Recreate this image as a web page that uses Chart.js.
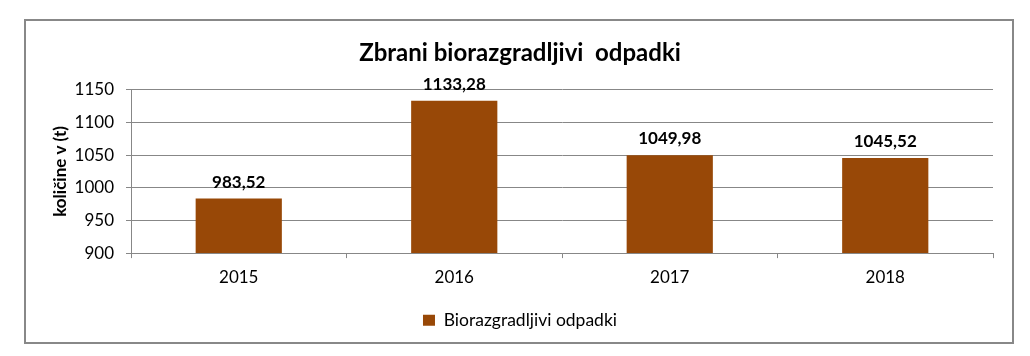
<!DOCTYPE html>
<html>
<head>
<meta charset="utf-8">
<script src="https://cdn.jsdelivr.net/npm/chart.js@4"></script>
<style>
  html, body { margin: 0; padding: 0; background: #fff; }
  #wrap { position: relative; width: 1030px; height: 356px; }
  #frame {
    position: absolute; left: 24px; top: 19px; width: 986px; height: 321px;
    border: 2px solid #888; pointer-events: none;
  }
</style>
</head>
<body>
<div id="wrap">
  <canvas id="myChart" width="1030" height="356"></canvas>
  <div id="frame"></div>
</div>
<script>
const years = ["2015", "2016", "2017", "2018"];
const amounts = [983.52, 1133.28, 1049.98, 1045.52];
const seriesName = "Biorazgradljivi odpadki";
const chartTitle = "Zbrani biorazgradljivi  odpadki";
const yTitle = "količine v (t)";

const FONT = "Lato, 'Open Sans', sans-serif";
const barColor = "#984807";
const gridColor = "#878787";

// value labels above bars
const barLabels = {
  id: "barLabels",
  afterDatasetsDraw(chart) {
    const ctx = chart.ctx;
    ctx.save();
    ctx.font = "bold 17px " + FONT;
    ctx.fillStyle = "#000";
    ctx.textAlign = "center";
    ctx.textBaseline = "bottom";
    chart.getDatasetMeta(0).data.forEach((bar, i) => {
      const txt = amounts[i].toFixed(2).replace(".", ",");
      ctx.fillText(txt, bar.x, bar.y - 8);
    });
    ctx.restore();
  }
};

Chart.defaults.font.family = FONT;
Chart.defaults.color = "#000";

const chart = new Chart("myChart", {
  type: "bar",
  data: {
    labels: years,
    datasets: [{
      label: seriesName,
      data: amounts,
      backgroundColor: barColor,
      borderWidth: 0,
      categoryPercentage: 1,
      barPercentage: 0.4
    }]
  },
  options: {
    responsive: false,
    animation: false,
    layout: { padding: { left: 47, right: 37, top: 21, bottom: 17 } },
    plugins: {
      title: {
        display: true,
        text: chartTitle,
        font: { size: 24, weight: "bold" },
        padding: { top: 18, bottom: 22 }
      },
      legend: {
        position: "bottom",
        labels: {
          boxWidth: 12,
          boxHeight: 11,
          font: { size: 17.5 },
          padding: 15
        }
      },
      tooltip: { enabled: false }
    },
    scales: {
      x: {
        grid: { drawOnChartArea: false, color: gridColor, tickLength: 5, offset: true },
        border: { color: gridColor },
        ticks: { font: { size: 17 }, padding: 9 }
      },
      y: {
        min: 900,
        max: 1150,
        ticks: {
          stepSize: 50,
          font: { size: 17 },
          padding: 12,
          callback: v => String(v)
        },
        grid: { color: gridColor, tickLength: 5 },
        border: { color: gridColor },
        title: {
          display: true,
          text: yTitle,
          font: { size: 17, weight: "bold" },
          padding: { top: 3, bottom: 0 }
        },
        afterFit: scale => { scale.width = 84; }
      }
    }
  },
  plugins: [barLabels]
});
</script>
</body>
</html>
